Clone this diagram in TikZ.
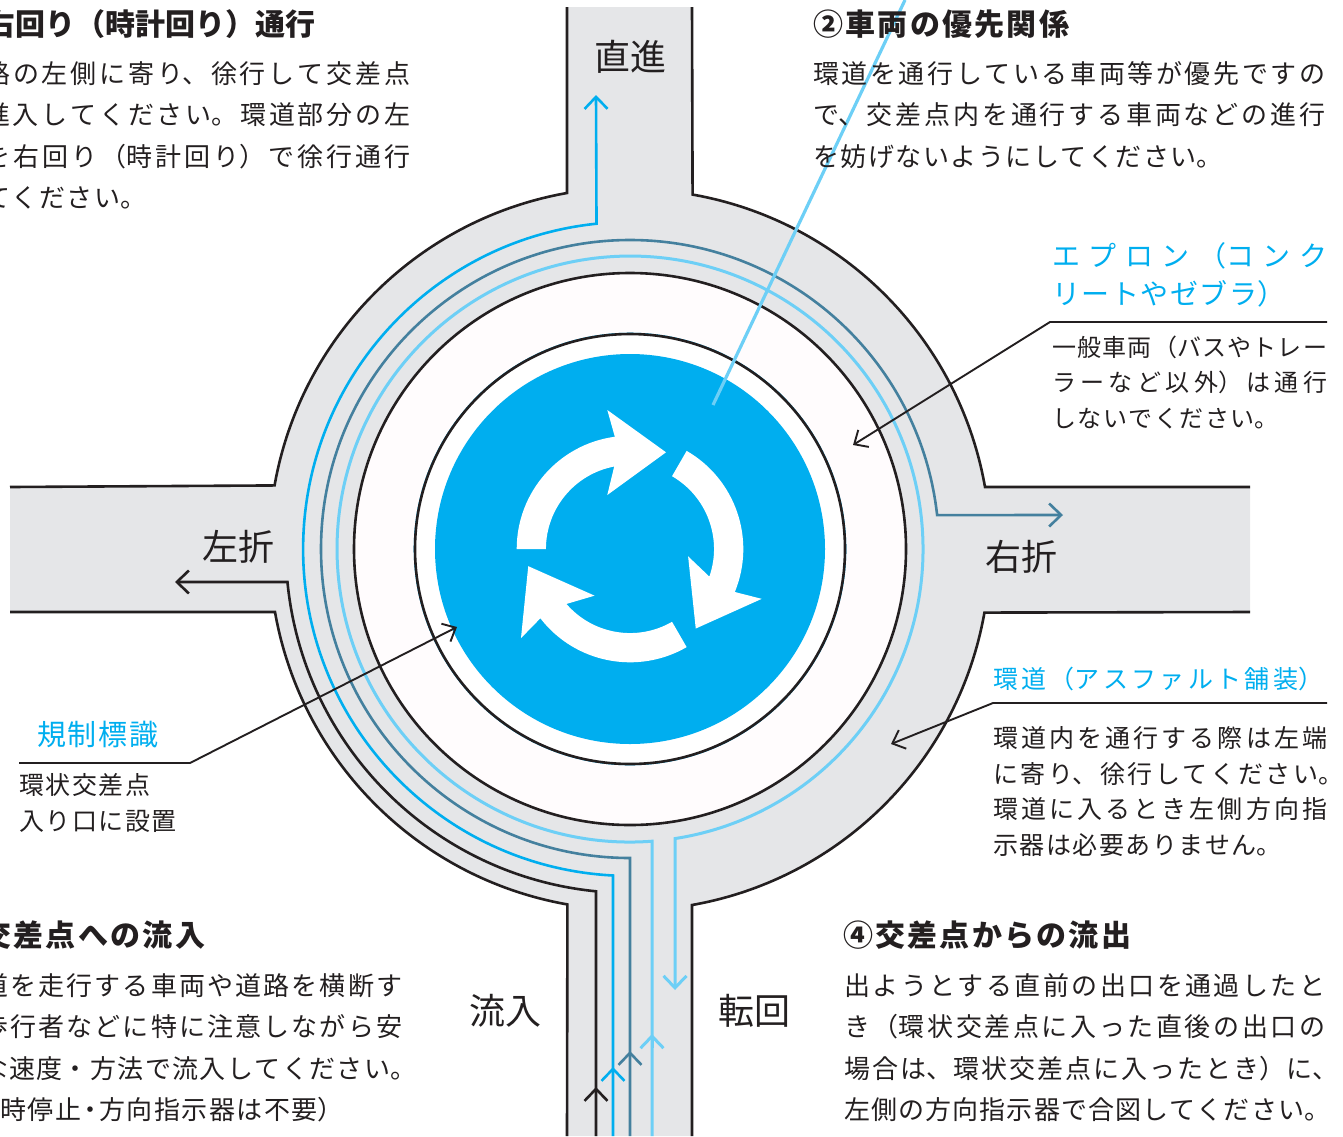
\documentclass[tikz,border=0pt]{standalone}
\usepackage{fontspec}
\setmainfont{Noto Sans CJK JP}
\usetikzlibrary{arrows.meta}
\XeTeXlinebreaklocale "ja"
\XeTeXlinebreakskip=1.5pt plus 8pt minus 2.5pt
\tolerance=10000
\hbadness=10000
\hfuzz=30pt
\definecolor{roadgray}{HTML}{E5E6E8}
\definecolor{ink}{HTML}{231F20}
\definecolor{signblue}{HTML}{00AEEF}
\definecolor{tealline}{HTML}{44809E}
\definecolor{paleblue}{HTML}{6DCFF6}
\definecolor{islandcol}{HTML}{FFFCFD}
\newcommand{\fullline}{\parfillskip=0pt\par}
\newcommand{\lp}{^^^^ff08}
\newcommand{\rp}{^^^^ff09}
\tikzset{
  route/.style={line width=2.6pt,line join=miter},
  routetip/.style={route,-{Straight Barb[length=12pt,width=23pt]}},
  leader/.style={ink,line width=1.9pt,-{Straight Barb[length=11pt,width=20pt]}},
  blocktxt/.style={anchor=base west,inner sep=0pt,align=justify,text width=#1,text=ink},
  headtxt/.style={blocktxt=#1,font=\bfseries\fontsize{30}{36}\selectfont},
  bodytxt/.style={blocktxt=#1,font=\fontsize{26}{41.5}\selectfont},
  roadlbl/.style={anchor=base,inner sep=0pt,text=ink,font=\fontsize{36}{40}\selectfont}
}
\begin{document}
\begin{tikzpicture}[x=1pt,y=1pt]
\useasboundingbox (0,0) rectangle (1343,-1136);
\clip (0,0) rectangle (1343,-1136);
% road
\fill [roadgray] (567,-7) -- (567,-193) arc[start angle=100,end angle=170,radius=360.5] -- (10,-487) -- (10,-612) -- (275,-612)
  arc[start angle=190,end angle=260,radius=360.5] -- (567,-1136) -- (692,-1136) -- (692,-905)
  arc[start angle=280,end angle=350,radius=360.5] -- (1250,-612) -- (1250,-487) -- (985,-487)
  arc[start angle=10,end angle=80,radius=360.5] -- (692,-7) -- cycle;
\draw [ink,line width=2.6pt] (567,-7) -- (567,-193) arc[start angle=100,end angle=170,radius=360.5] -- (10,-487);
\draw [ink,line width=2.6pt] (10,-612) -- (275,-612) arc[start angle=190,end angle=260,radius=360.5] -- (567,-1136);
\draw [ink,line width=2.6pt] (692,-1136) -- (692,-905) arc[start angle=280,end angle=350,radius=360.5] -- (1250,-612);
\draw [ink,line width=2.6pt] (1250,-487) -- (985,-487) arc[start angle=10,end angle=80,radius=360.5] -- (692,-7);
% island
\draw [ink,line width=2.6pt,fill=islandcol] (630,-549) circle (276);
% routes
\draw [routetip,ink] (596,-1136) -- (596,-891.3) arc[start angle=264.35,end angle=185.5,radius=344] -- (175,-582);
\draw [routetip,signblue] (613,-1136) -- (613,-875.5) arc[start angle=267,end angle=95.9,radius=327] -- (596,-95);
\draw [routetip,tealline] (630,-1136) -- (630,-858) arc[start angle=270,end angle=6.3,radius=309] -- (1063,-515);
\draw [routetip,paleblue,line width=3pt] (652,-1136) -- (652,-841.2) arc[start angle=274.3,end angle=-81.15,radius=293] -- (675,-990);
\draw [routetip,ink] (596,-1100) -- (596,-1087);
\draw [routetip,signblue] (613,-1080) -- (613,-1067);
\draw [routetip,tealline] (630,-1065) -- (630,-1051);
\draw [routetip,paleblue,line width=3pt] (652,-1048) -- (652,-1034);
% sign
\draw [signblue,line width=1pt,fill=white] (630,-549) circle (215.8);
\draw [ink,line width=2.6pt] (630,-549) circle (215);
\fill [signblue] (630,-549) circle (195);
\foreach \a in {0,-120,-240} {
  \begin{scope}[shift={(630,-549)},rotate=\a]
    \fill [white] (-113.3,0) arc[start angle=180,end angle=97.7,radius=113.3] -- (-22.7,139) -- (36,96.7) -- (-22.7,54) -- (-15.8,82.5)
      arc[start angle=100.8,end angle=180,radius=84] -- cycle;
  \end{scope}
}
% leader lines
\coordinate (signtop) at (713,-405);
\coordinate (sigoff) at (905,0);
\draw [paleblue,line width=3.2pt] (signtop) -- (sigoff);
\coordinate (apronend) at (1327,-322);
\coordinate (apronbend) at (1050,-322);
\coordinate (apronhead) at (853,-445);
\draw [leader] (apronend) -- (apronbend) -- (apronhead);
\coordinate (ringend) at (1327,-703);
\coordinate (ringbend) at (993,-703);
\coordinate (ringhead) at (891,-744);
\draw [leader] (ringend) -- (ringbend) -- (ringhead);
\coordinate (signend) at (19,-763);
\coordinate (signbend) at (190,-763);
\coordinate (signhead) at (457,-627);
\draw [leader] (signend) -- (signbend) -- (signhead);
% road labels
\node [roadlbl] (straight) at (630,-70) {直進};
\node [roadlbl] (leftturn) at (238,-560) {左折};
\node [roadlbl] (rightturn) at (1021,-570) {右折};
\node [roadlbl] (inflow) at (505,-1024) {流入};
\node [roadlbl] (uturn) at (754,-1024) {転回};
% text blocks
\node [headtxt=330] (headone) at (-15,-35.5) {右回り\lp 時計回り\rp 通行\fullline};
\node [bodytxt=426] (bodyone) at (-16,-83) {路の左側に寄り、徐行して交差点\linebreak 進入してください。環道部分の左\linebreak を右回り\lp 時計回り\rp で徐行通行\linebreak てください。};
\node [headtxt=256] (headtwo) at (813,-35.5) {②車両の優先関係\fullline};
\node [bodytxt=512] (bodytwo) at (813,-83) {環道を通行している車両等が優先ですの\linebreak で、交差点内を通行する車両などの進行\linebreak を妨げないようにしてください。};
\node [blocktxt=275,text=signblue,font=\fontsize{28}{37.5}\selectfont] (apronhd) at (1052,-266.6) {エプロン\lp コンク\linebreak リートやゼブラ\rp};
\node [blocktxt=275,font=\fontsize{24}{35.5}\selectfont] (apronbody) at (1052,-356) {一般車両\lp バスやトレー\linebreak ラーなど以外\rp は通行\linebreak しないでください。};
\node [blocktxt=330,text=signblue,font=\fontsize{25}{30}\selectfont] (ringhd) at (993,-688) {環道\lp アスファルト舗装\rp\fullline};
\node [blocktxt=334,font=\fontsize{25}{35.7}\selectfont] (ringbody) at (993,-747.5) {環道内を通行する際は左端\linebreak に寄り、徐行してください。\kern-16pt\linebreak 環道に入るとき左側方向指\linebreak 示器は必要ありません。};
\node [blocktxt=121,text=signblue,font=\fontsize{29}{32}\selectfont] (signhd) at (37,-745) {規制標識\fullline};
\node [blocktxt=170,font=\fontsize{25}{36}\selectfont] (signbody) at (19,-794.5) {環状交差点\\入り口に設置};
\node [headtxt=224] (headthree) at (-19,-946.4) {交差点への流入\fullline};
\node [bodytxt=420] (bodythree) at (-18,-995) {道を走行する車両や道路を横断す\linebreak 歩行者などに特に注意しながら安\linebreak な速度・方法で流入してください。\kern-14pt\linebreak \hspace*{18pt}時停止\kern-4pt・\kern-4pt方向指示器は不要\rp};
\node [headtxt=288] (headfour) at (843,-946.4) {④交差点からの流出\fullline};
\node [bodytxt=481] (bodyfour) at (844,-995) {出ようとする直前の出口を通過したと\linebreak き\lp 環状交差点に入った直後の出口の\linebreak 場合は、環状交差点に入ったとき\rp に、\kern-13pt\linebreak 左側の方向指示器で合図してください。\kern-5pt\fullline};
\end{tikzpicture}
\end{document}
